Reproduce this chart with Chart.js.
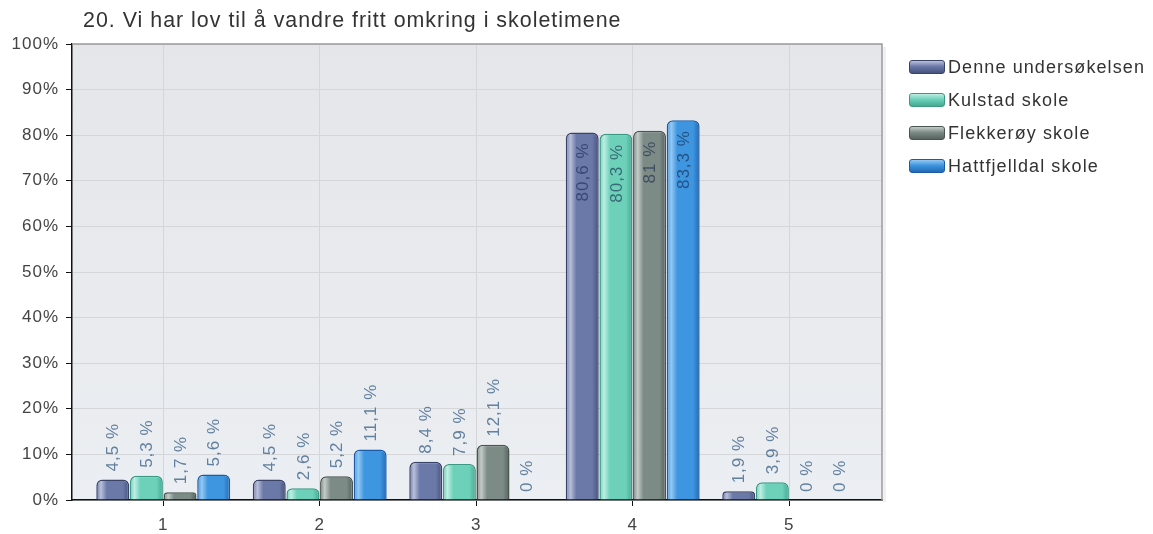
<!DOCTYPE html>
<html>
<head>
<meta charset="utf-8">
<script src="https://cdn.jsdelivr.net/npm/chart.js@4.4.1/dist/chart.umd.min.js"></script>
<style>
  body { margin: 0; background: #fff; }
  #wrap { position: relative; width: 1153px; height: 534px; }
  #title { position: absolute; left: 83px; top: 8px; font: 21.4px "Liberation Sans", Arial, sans-serif; color: #333; letter-spacing: 1px; white-space: nowrap; }
  #legend { position: absolute; left: 909px; top: 57px; font: 18px "Liberation Sans", Arial, sans-serif; color: #333; letter-spacing: 1.1px; }
  .item { height: 33px; display: flex; align-items: flex-start; }
  .sw { width: 34px; height: 12px; border-radius: 3px; border: 1.5px solid; margin-right: 3px; margin-top: 3px; }
</style>
</head>
<body>
<div id="wrap">
  <canvas id="c" width="1153" height="534"></canvas>
  <div id="title">20. Vi har lov til å vandre fritt omkring i skoletimene</div>
  <div id="legend"></div>
</div>
<script>
// svaralternativ 1-5
const categories = ['1', '2', '3', '4', '5'];
const seriesNames = ['Denne undersøkelsen', 'Kulstad skole', 'Flekkerøy skole', 'Hattfjelldal skole'];
const denne = [4.5, 4.5, 8.4, 80.6, 1.9];
const kulstad = [5.3, 2.6, 7.9, 80.3, 3.9];
const flekkeroy = [1.7, 5.2, 12.1, 81, 0];
const hattfjelldal = [5.6, 11.1, 0, 83.3, 0];
const yTicks = [0, 10, 20, 30, 40, 50, 60, 70, 80, 90, 100];

// base, lys, mørk, kant
const colors = [
  ['#6b79a9', '#b9c0d9', '#47527e', '#394368'],
  ['#6dd0b9', '#bdeee3', '#45a993', '#3d9984'],
  ['#7c8b86', '#c3cbc8', '#56625e', '#4a5551'],
  ['#3e95e0', '#94c8f3', '#2269b5', '#1c5ca6']
];

const values = [denne, kulstad, flekkeroy, hattfjelldal];

function fmt(v) { return String(v).replace('.', ',') + ' %'; }

const datasets = values.map(function (arr, i) {
  return {
    label: seriesNames[i],
    data: arr.map(function (v, j) { return { x: j + 1, y: v }; }),
    backgroundColor: colors[i][0],
    borderColor: colors[i][3],
    borderWidth: function (ctx) { return ctx.raw && ctx.raw.y === 0 ? 0 : 1.5; },
    borderRadius: { topLeft: 6, topRight: 6 },
    borderSkipped: 'bottom'
  };
});

// legend som html
const leg = document.getElementById('legend');
seriesNames.forEach(function (name, i) {
  const d = document.createElement('div');
  d.className = 'item';
  d.innerHTML = '<span class="sw" style="border-color:' + colors[i][3] + ';background:linear-gradient(to bottom,' +
    colors[i][1] + ',' + colors[i][0] + ' 45%,' + colors[i][2] + ')"></span><span>' + name + '</span>';
  leg.appendChild(d);
});

const spacing = {
  id: 'spacing',
  beforeLayout: function (chart) { chart.ctx.letterSpacing = '1px'; },
  beforeDraw: function (chart) {
    chart.ctx.letterSpacing = '1px';
    const a = chart.chartArea, ctx = chart.ctx;
    const g = ctx.createLinearGradient(0, a.top, 0, a.bottom);
    g.addColorStop(0, '#e5e6e9');
    g.addColorStop(1, '#ebeef2');
    ctx.save();
    ctx.fillStyle = g;
    ctx.fillRect(a.left, a.top, a.right - a.left, a.bottom - a.top);
    ctx.restore();
  },
  beforeDatasetsDraw: function (chart) {
    const ctx = chart.ctx;
    chart.data.datasets.forEach(function (ds, i) {
      chart.getDatasetMeta(i).data.forEach(function (el) {
        const p = el.getProps(['x', 'width'], true);
        const g = ctx.createLinearGradient(p.x - p.width / 2, 0, p.x + p.width / 2, 0);
        g.addColorStop(0, colors[i][0]);
        g.addColorStop(0.14, colors[i][1]);
        g.addColorStop(0.32, colors[i][0]);
        g.addColorStop(0.8, colors[i][0]);
        g.addColorStop(1, colors[i][2]);
        el.options = Object.assign({}, el.options, { backgroundColor: g });
      });
    });
  },
  afterDatasetsDraw: function (chart) {
    const ctx = chart.ctx;
    ctx.save();
    ctx.font = '17px "Liberation Sans", Arial, sans-serif';
    ctx.letterSpacing = '1px';
    ctx.textBaseline = 'middle';
    chart.data.datasets.forEach(function (ds, i) {
      chart.getDatasetMeta(i).data.forEach(function (el, j) {
        const v = values[i][j];
        const p = el.getProps(['x', 'y'], true);
        ctx.save();
        ctx.translate(p.x + 1, p.y);
        ctx.rotate(-Math.PI / 2);
        if (v > 50) {
          ctx.textAlign = 'right';
          ctx.fillStyle = 'rgba(25,40,75,0.62)';
          ctx.fillText(fmt(v), -10, 0);
        } else {
          ctx.textAlign = 'left';
          ctx.fillStyle = '#62809f';
          ctx.fillText(fmt(v), 8, 0);
        }
        ctx.restore();
      });
    });
    ctx.restore();
  },
  afterDraw: function (chart) {
    const a = chart.chartArea, ctx = chart.ctx;
    ctx.save();
    ctx.strokeStyle = '#9a9a9a';
    ctx.lineWidth = 1.5;
    ctx.beginPath();
    ctx.moveTo(a.left, a.top);
    ctx.lineTo(a.right, a.top);
    ctx.lineTo(a.right, a.bottom);
    ctx.stroke();
    ctx.strokeStyle = 'rgba(0,0,0,0.06)';
    ctx.lineWidth = 3;
    ctx.beginPath();
    ctx.moveTo(a.right + 2.5, a.top + 3);
    ctx.lineTo(a.right + 2.5, a.bottom + 2);
    ctx.stroke();
    ctx.restore();
  }
};

new Chart(document.getElementById('c'), {
  type: 'bar',
  data: { datasets: datasets },
  plugins: [spacing],
  options: {
    responsive: false,
    animation: false,
    layout: { padding: { left: 0, right: 271, top: 44, bottom: 0 } },
    categoryPercentage: 0.86,
    barPercentage: 0.98,
    plugins: {
      legend: { display: false },
      title: { display: false },
      tooltip: { enabled: false }
    },
    scales: {
      x: {
        type: 'linear',
        offset: false,
        min: 0.417,
        max: 5.593,
        afterBuildTicks: function (scale) {
          scale.ticks = categories.map(function (c, i) { return { value: i + 1 }; });
        },
        afterFit: function (scale) { scale.height = 34; },
        ticks: {
          callback: function (v) { return categories[v - 1]; },
          font: { family: '"Liberation Sans", Arial, sans-serif', size: 17 },
          color: '#444',
          padding: 9,
          maxRotation: 0
        },
        grid: { offset: false, color: '#d5d6d8', tickColor: '#111', tickLength: 6, lineWidth: 1 },
        border: { color: '#111', width: 1.5 }
      },
      y: {
        min: 0,
        max: 100,
        afterBuildTicks: function (scale) {
          scale.ticks = yTicks.map(function (v) { return { value: v }; });
        },
        afterFit: function (scale) { scale.width = 72; },
        ticks: {
          callback: function (v) { return v + '%'; },
          font: { family: '"Liberation Sans", Arial, sans-serif', size: 17 },
          color: '#444',
          padding: 7
        },
        grid: { color: '#d5d6d8', tickColor: '#111', tickLength: 6, lineWidth: 1 },
        border: { color: '#111', width: 1.5 }
      }
    }
  }
});
</script>
</body>
</html>
